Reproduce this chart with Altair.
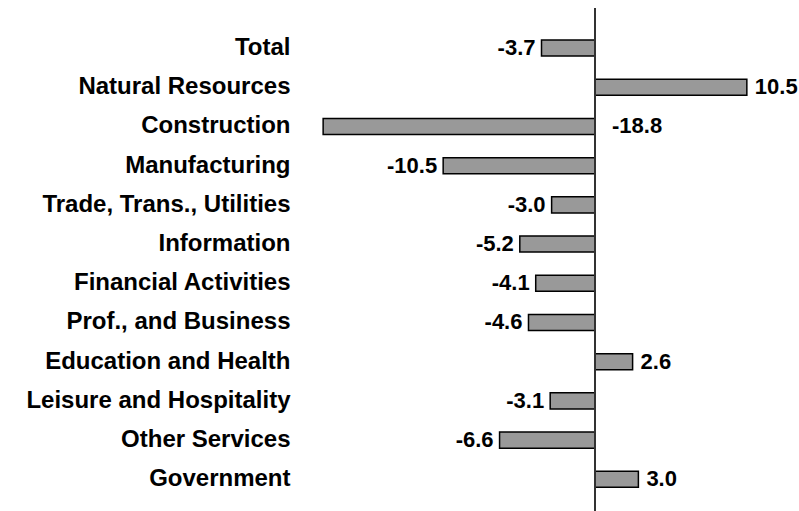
import altair as alt
import pandas as pd

categories = [
    "Total", "Natural Resources", "Construction", "Manufacturing",
    "Trade, Trans., Utilities", "Information", "Financial Activities",
    "Prof., and Business", "Education and Health", "Leisure and Hospitality",
    "Other Services", "Government",
]
values = [-3.7, 10.5, -18.8, -10.5, -3.0, -5.2, -4.1, -4.6, 2.6, -3.1, -6.6, 3.0]

df = pd.DataFrame({"category": categories, "value": values})
df["label"] = df["value"].map(lambda v: f"{v:.1f}")
df["zero"] = 0.0

FONT = "Liberation Sans"
CAT_FS = 24
VAL_FS = 22

x_scale = alt.Scale(domain=[-20.4, 13], nice=False, zero=False)
y_scale = alt.Scale(domain=categories, paddingInner=0.59, paddingOuter=0.71, align=0.575)
y_axis = alt.Axis(title=None, domain=False, ticks=False, grid=False, labelPadding=10,
                  labelFont=FONT, labelFontSize=CAT_FS, labelFontWeight="bold",
                  labelColor="#000000", labelLimit=400)
y_enc = alt.Y("category:N", scale=y_scale, sort=categories, axis=y_axis)

bars = alt.Chart(df).mark_bar(fill="#999999", stroke="#000000", strokeWidth=1.5).encode(
    x=alt.X("value:Q", scale=x_scale, axis=None),
    x2="zero:Q",
    y=y_enc,
)

zero_rule = alt.Chart(df).mark_rule(color="#333333", strokeWidth=1).encode(
    x=alt.X("zero:Q", scale=x_scale, axis=None),
)

txt_common = dict(font=FONT, fontSize=VAL_FS, fontWeight="bold", color="#000000", baseline="middle")

pos_text = alt.Chart(df).transform_filter("datum.value >= 0").mark_text(
    align="left", dx=8, **txt_common
).encode(x=alt.X("value:Q", scale=x_scale, axis=None), y=y_enc, text="label:N")

neg_text = alt.Chart(df).transform_filter("datum.value < 0 && datum.value > -15").mark_text(
    align="right", dx=-6, **txt_common
).encode(x=alt.X("value:Q", scale=x_scale, axis=None), y=y_enc, text="label:N")

wide_text = alt.Chart(df).transform_filter("datum.value <= -15").mark_text(
    align="left", dx=17, **txt_common
).encode(x=alt.X("zero:Q", scale=x_scale, axis=None), y=y_enc, text="label:N")

chart = alt.layer(bars, zero_rule, pos_text, neg_text, wide_text).properties(
    width=483, height=503,
    background="#ffffff",
    autosize=alt.AutoSizeParams(type="none"),
    padding={"left": 300, "top": 8, "right": 16, "bottom": 0},
).configure_view(strokeWidth=0, stroke="transparent").configure_axis(grid=False)

chart.save("out.html", embed_options={"renderer": "svg", "actions": False})
